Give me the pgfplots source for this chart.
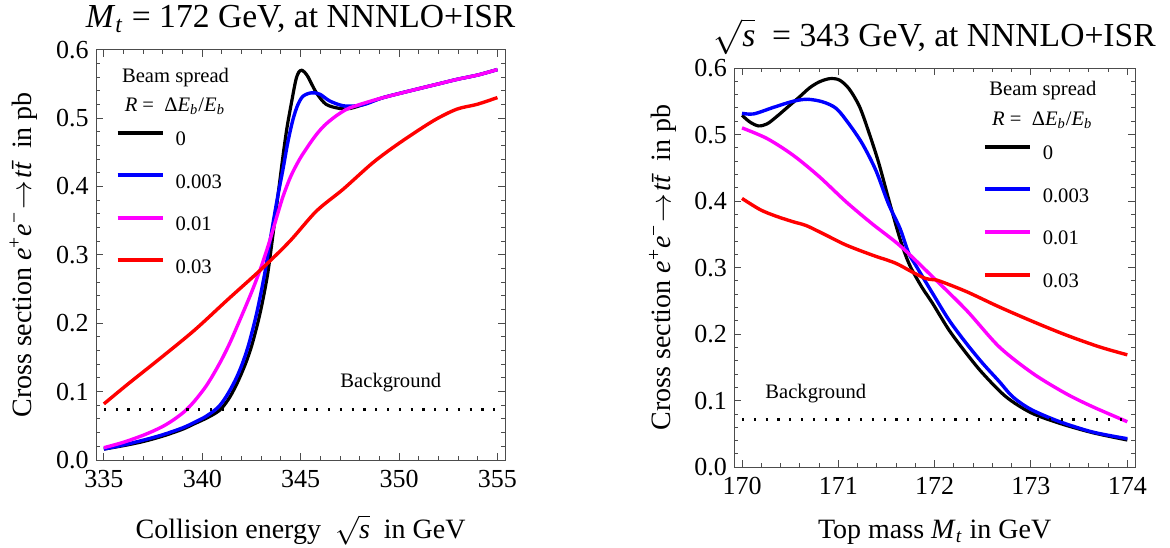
\documentclass[border=0pt]{standalone}
\usepackage{fontspec}
\setmainfont{Liberation Serif}
\usepackage{pgfplots}
\pgfplotsset{compat=1.18}
\definecolor{mmablue}{rgb}{0,0,1}
\definecolor{mmamag}{rgb}{1,0,1}
\definecolor{mmared}{rgb}{1,0,0}
\newcommand{\tickfont}{\fontsize{13}{15}\selectfont}
\newcommand{\labfont}{\fontsize{14}{16}\selectfont}
\newcommand{\titfont}{\fontsize{16.8}{19}\selectfont}
\newcommand{\legfont}{\fontsize{10.3}{12.4}\selectfont}
\newcommand{\ylab}{Cross section \textit{e}\textsuperscript{+}\textit{e}\textsuperscript{−}\kern1pt$\rightarrow$\kern1pt\textit{t}\textit{\={t}} in pb}
\pgfplotsset{
  mma/.style={
    scale only axis,
    ymin=0, ymax=0.6,
    ytick={0,0.1,0.2,0.3,0.4,0.5,0.6},
    minor y tick num=4,
    minor x tick num=4,
    tick align=inside,
    major tick length=3.5pt,
    minor tick length=2pt,
    axis line style={black!70, line width=0.5pt},
    every tick/.style={black!70, line width=0.5pt},
    /pgf/number format/assume math mode=true,
    ticklabel style={font=\tickfont},
    yticklabel style={/pgf/number format/fixed, /pgf/number format/fixed zerofill, /pgf/number format/precision=1, inner sep=0pt, xshift=-3.5pt},
    xticklabel style={inner sep=0pt, yshift=-5pt},
    xlabel style={font=\labfont, at={(axis description cs:0.5,0)}, anchor=base},
    ylabel style={font=\labfont, at={(axis description cs:-0.1588,0.5)}, anchor=base},
    every axis title shift=0pt,
    title style={font=\titfont, at={(axis description cs:0.5,1)}, anchor=base},
    legend style={draw=none, fill=none, font=\legfont, inner sep=0pt, outer sep=0pt,
      nodes={inner sep=0pt}, row sep=12.35pt,
      /tikz/every odd column/.append style={column sep=5.35pt}},
    legend cell align=left,
    legend image code/.code={\draw[##1, line width=2pt] (0pt,3.8pt) -- (22.65pt,3.8pt);},
    every axis plot/.append style={line width=1.7pt, smooth},
  }
}
\begin{document}
\begin{tikzpicture}
\path[use as bounding box] (0,0) rectangle (585pt,273.5pt);
% ---------------- left panel ----------------
\begin{axis}[mma,
  at={(48pt,43.5pt)}, anchor=south west,
  width=204.65pt, height=205.15pt,
  xmin=334.6, xmax=355.4,
  xtick={335,340,345,350,355},
  title style={yshift=11pt},
  xlabel style={yshift=-39pt},
  title={\textit{M}\textsubscript{\textit{t}} = 172 GeV, at NNNLO+ISR},
  xlabel={Collision energy\ \ $\sqrt{\textit{s}}$\ \ in GeV},
  ylabel={\ylab},
  legend style={at={(axis description cs:0.048,0.803)}, anchor=north west},
]
\addplot[black, line width=1.6pt] table {
335.0 0.016
336.0 0.021
337.0 0.027
338.0 0.035
339.0 0.045
339.6 0.053
340.2 0.061
340.7 0.069
341.0 0.076
341.4 0.092
341.8 0.114
342.2 0.141
342.5 0.166
342.8 0.198
343.0 0.223
343.2 0.252
343.35 0.277
343.55 0.320
343.8 0.376
344.1 0.444
344.3 0.485
344.53 0.522
344.75 0.555
344.9 0.567
345.05 0.570
345.2 0.567
345.38 0.560
345.8 0.537
346.3 0.520
347.0 0.514
347.5 0.514
348.2 0.520
349.2 0.530
351.0 0.543
352.0 0.550
353.0 0.557
354.0 0.563
355.0 0.571
};
\addlegendentry{0}
\addplot[mmablue] table {
335.0 0.016
336.0 0.022
337.0 0.029
338.0 0.037
339.0 0.047
339.6 0.055
340.2 0.064
340.8 0.077
341.2 0.092
341.65 0.115
342.0 0.138
342.32 0.165
342.6 0.195
342.83 0.223
343.17 0.272
343.43 0.318
343.8 0.380
344.1 0.425
344.35 0.465
344.61 0.498
344.85 0.519
345.12 0.532
345.55 0.537
345.97 0.535
346.48 0.525
347.16 0.518
347.84 0.518
348.35 0.521
349.2 0.530
351.0 0.543
352.0 0.550
353.0 0.557
354.0 0.563
355.0 0.571
};
\addlegendentry{0.003}
\addplot[mmamag] table {
335.0 0.018
336.0 0.026
337.07 0.037
337.92 0.048
338.5 0.058
339.1 0.071
339.6 0.086
340.12 0.105
340.5 0.122
340.97 0.146
341.4 0.171
341.81 0.198
342.5 0.245
343.0 0.283
343.4 0.318
343.75 0.352
344.1 0.385
344.5 0.415
344.95 0.440
345.4 0.460
345.8 0.476
346.2 0.489
346.65 0.500
347.1 0.509
347.5 0.515
348.35 0.523
349.2 0.530
351.0 0.543
352.0 0.550
353.0 0.557
354.0 0.563
355.0 0.571
};
\addlegendentry{0.01}
\addplot[mmared] table {
335.0 0.082
336.22 0.111
337.92 0.150
339.61 0.190
341.31 0.235
343.0 0.279
344.45 0.320
345.8 0.364
347.16 0.396
348.68 0.435
350.04 0.464
351.74 0.496
352.93 0.513
353.95 0.520
355.0 0.530
};
\addlegendentry{0.03}
\addplot[black, line width=1.5pt, dash pattern=on 1.1pt off 4.8pt, sharp plot, forget plot] table {
335 0.0733
355 0.0733
};
\node[font=\legfont, anchor=base east] at (axis cs:352.5,0.1054) {Background};
\node[font=\legfont, anchor=base west] at (axis description cs:0.0464,0.9205) {Beam spread};
\node[font=\legfont, anchor=base west] at (axis description cs:0.053,0.849) {\textit{R} =\ \ Δ\textit{E}\textsubscript{\textit{b}}/\textit{E}\textsubscript{\textit{b}}};
\end{axis}
% ---------------- right panel ----------------
\begin{axis}[mma,
  at={(367.15pt,39.85pt)}, anchor=south west,
  width=200.35pt, height=199.65pt,
  xmin=169.92, xmax=174.08,
  xtick={170,171,172,173,174},
  title style={yshift=11pt},
  xlabel style={yshift=-35.5pt},
  title={$\sqrt{\textit{s}}$\ \ = 343 GeV, at NNNLO+ISR},
  xlabel={Top mass \textit{M}\textsubscript{\textit{t}} in GeV},
  ylabel={\ylab},
  legend style={at={(axis description cs:0.620,0.808)}, anchor=north west},
]
\addplot[black, line width=1.6pt] table {
170.00 0.529
170.08 0.519
170.17 0.513
170.26 0.516
170.36 0.527
170.48 0.542
170.60 0.557
170.70 0.570
170.80 0.579
170.91 0.584
171.01 0.582
171.11 0.569
171.22 0.542
171.32 0.502
171.42 0.457
171.52 0.404
171.63 0.348
171.70 0.318
171.76 0.298
171.87 0.270
171.98 0.246
172.15 0.206
172.33 0.171
172.50 0.141
172.74 0.106
173.00 0.082
173.30 0.066
173.64 0.052
174.00 0.041
};
\addlegendentry{0}
\addplot[mmablue] table {
170.00 0.532
170.12 0.531
170.33 0.541
170.53 0.550
170.68 0.553
170.84 0.549
170.98 0.539
171.11 0.516
171.25 0.486
171.39 0.446
171.52 0.396
171.64 0.359
171.73 0.322
171.81 0.302
171.98 0.261
172.15 0.221
172.33 0.186
172.50 0.156
172.67 0.129
172.81 0.106
173.00 0.087
173.29 0.069
173.64 0.053
174.00 0.043
};
\addlegendentry{0.003}
\addplot[mmamag] table {
170.00 0.510
170.26 0.494
170.53 0.469
170.80 0.437
171.08 0.399
171.35 0.366
171.64 0.333
171.98 0.286
172.33 0.236
172.67 0.181
173.02 0.141
173.36 0.111
173.64 0.091
174.00 0.0685
};
\addlegendentry{0.01}
\addplot[mmared] table {
170.00 0.404
170.19 0.387
170.36 0.377
170.53 0.369
170.67 0.363
170.87 0.349
171.08 0.334
171.35 0.319
171.59 0.307
171.76 0.294
171.90 0.284
171.98 0.282
172.05 0.280
172.33 0.264
172.67 0.241
173.02 0.219
173.36 0.199
173.71 0.181
174.00 0.169
};
\addlegendentry{0.03}
\addplot[black, line width=1.5pt, dash pattern=on 1.1pt off 4.8pt, sharp plot, forget plot] table {
170 0.0725
174 0.0725
};
\node[font=\legfont, anchor=base west] at (axis cs:170.17,0.104) {Background};
\node[font=\legfont, anchor=base west] at (axis description cs:0.619,0.931) {Beam spread};
\node[font=\legfont, anchor=base west] at (axis description cs:0.626,0.857) {\textit{R} =\ \ Δ\textit{E}\textsubscript{\textit{b}}/\textit{E}\textsubscript{\textit{b}}};
\end{axis}
\end{tikzpicture}
\end{document}
